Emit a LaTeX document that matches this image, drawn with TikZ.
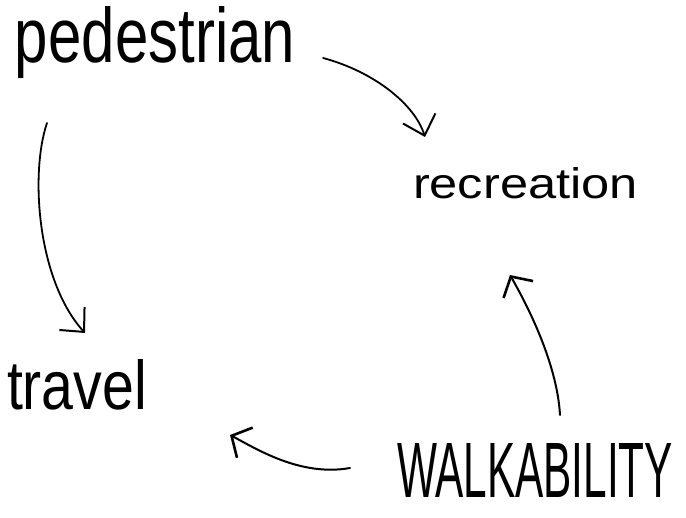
\documentclass[tikz,border=0pt]{standalone}
\usepackage{fontspec}
\setmainfont{Liberation Sans}
\usepackage{graphicx}
\usetikzlibrary{arrows.meta,calc}
\begin{document}
\begin{tikzpicture}[x=1pt,y=-1pt,
  word/.style={inner sep=0pt,outer sep=0pt,anchor=base west},
  conn/.style={line width=1.8pt,line cap=round,
    -{Straight Barb[length=18pt,width=34pt,line width=2pt]}},
  shortconn/.style={line width=2pt,line cap=round,
    -{Straight Barb[length=15pt,width=34pt,line width=2.6pt]}}]
\useasboundingbox (0,0) rectangle (686,518);
\node[word] (ped) at (15,63) {\resizebox{280pt}{56pt}{pedestrian}};
\node[word] (rec) at (413,199) {\resizebox{225pt}{31pt}{recreation}};
\node[word] (trav) at (7,410) {\resizebox{140pt}{50pt}{travel}};
\node[word] (walk) at (397,498) {\resizebox{276pt}{54pt}{WALKABILITY}};
% pedestrian -> recreation
\draw[conn] ($(ped.base east)+(28,-5)$) .. controls ($(ped.base east)+(80,9)$) and ($(rec.base west)+(2,-94)$) .. ($(rec.base west)+(12,-62)$);
% pedestrian -> travel
\draw[conn] ($(ped.base west)+(32,60)$) .. controls ($(ped.base west)+(15,110)$) and ($(trav.base west)+(30,-130)$) .. ($(trav.base west)+(78,-77)$);
% WALKABILITY -> recreation
\draw[shortconn] ($(walk.base west)+(163,-83)$) .. controls ($(walk.base west)+(160,-136)$) and ($(rec.base west)+(113,104)$) .. ($(rec.base west)+(97,76)$);
% WALKABILITY -> travel
\draw[shortconn] ($(walk.base west)+(-47,-30)$) .. controls ($(walk.base west)+(-97,-21)$) and ($(trav.base east)+(108,38)$) .. ($(trav.base east)+(83,25)$);
\end{tikzpicture}
\end{document}
